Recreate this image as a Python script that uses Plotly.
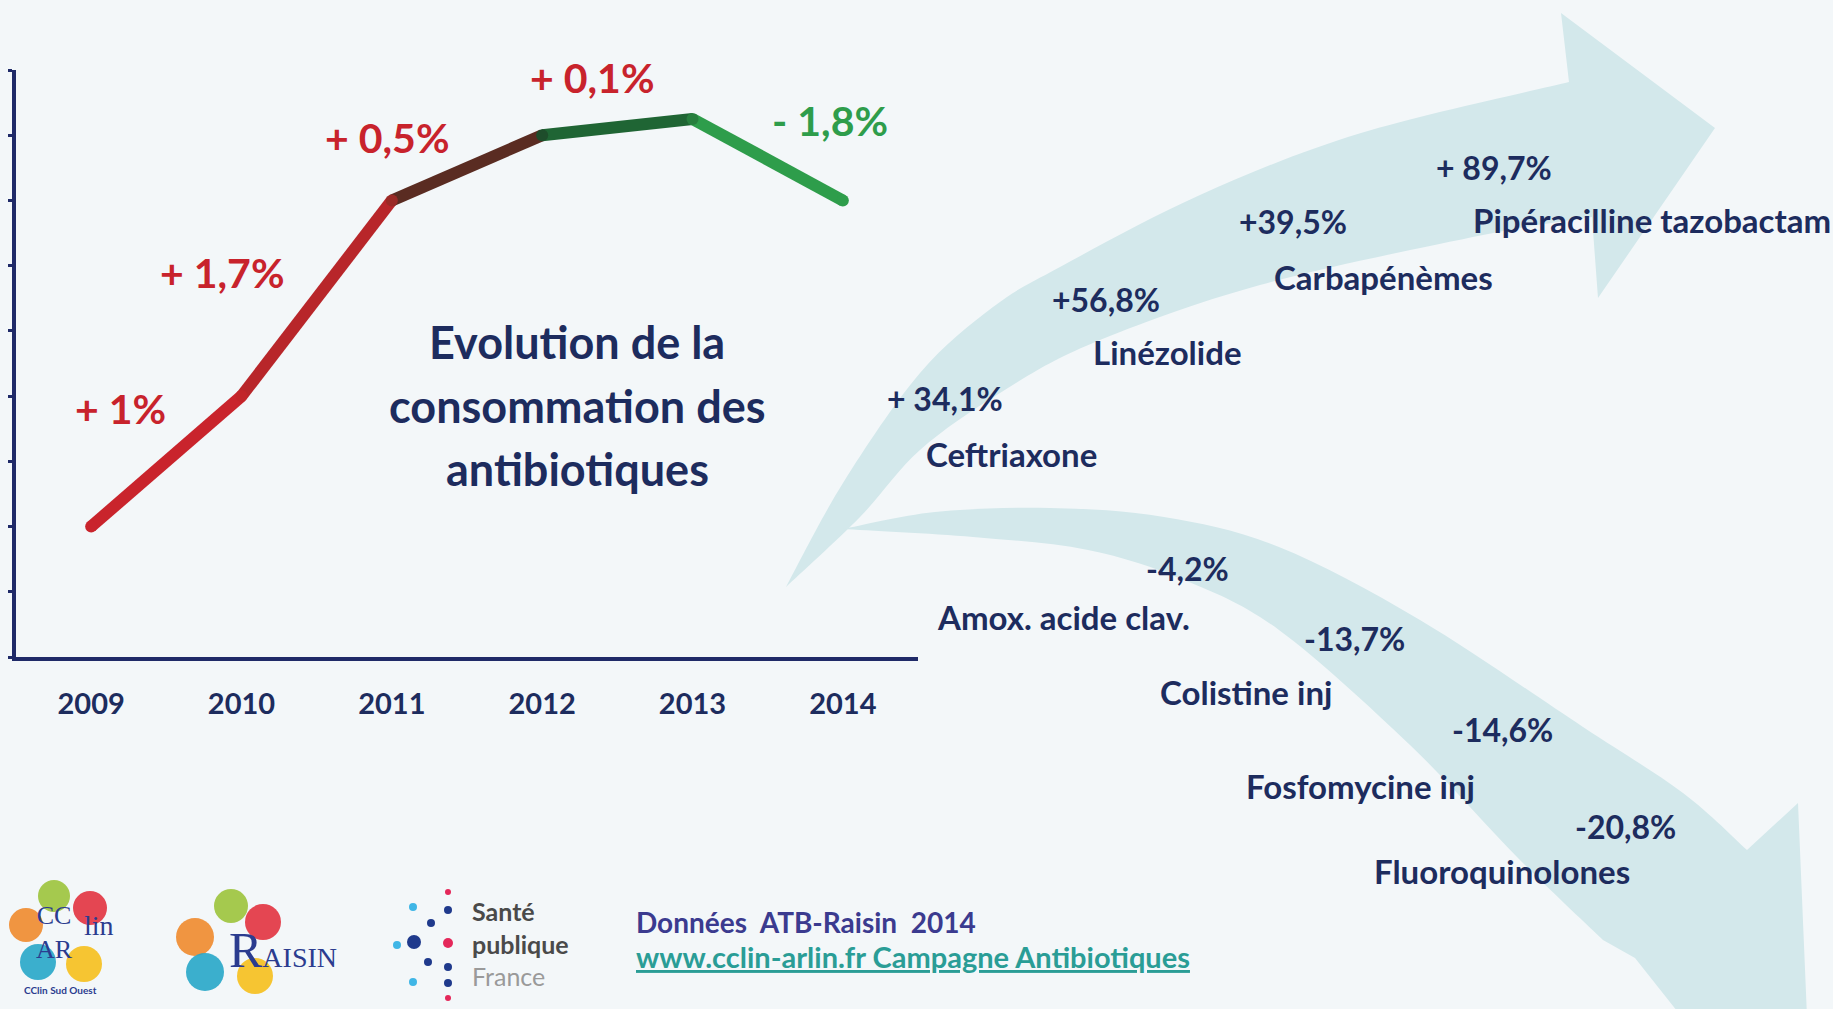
import plotly.graph_objects as go

W, H = 1833, 1009

# ---------------- data ----------------
years = ["2009", "2010", "2011", "2012", "2013", "2014"]
consumption = [2.0, 4.0, 7.0, 8.0, 8.25, 7.0]          # relative level (axis unlabelled)
yearly_change = ["+ 1%", "+ 1,7%", "+ 0,5%", "+ 0,1%", "- 1,8%"]
title_lines = ["Evolution de la", "consommation des", "antibiotiques"]

rising_drugs = ["Ceftriaxone", "Linézolide", "Carbapénèmes", "Pipéracilline tazobactam"]
rising_change = ["+ 34,1%", "+56,8%", "+39,5%", "+ 89,7%"]
falling_drugs = ["Amox. acide clav.", "Colistine inj", "Fosfomycine inj", "Fluoroquinolones"]
falling_change = ["-4,2%", "-13,7%", "-14,6%", "-20,8%"]

source_line = "Données  ATB-Raisin  2014"
url_line = "www.cclin-arlin.fr Campagne Antibiotiques"

# ---------------- styles ----------------
BG = "#f3f7f9"
ARROW = "#d3e8eb"
NAVY = "#1d2c5e"
AXIS = "#1f2a68"
RED = "#c8232c"
GREEN = "#2e9d4b"
seg_colors = ["#c9242c", "#b8262a", "#5a2c22", "#1f6534", "#2e9d4b"]
pt_colors = ["#c9242c", "#c22529", "#9a2a26", "#1e4d2b", "#277f3e", "#2e9d4b"]
FONT = "Lato"


def P(x, y):
    return x / W, 1 - y / H


def fmt(pt):
    x, y = P(*pt)
    return f"{x:.5f},{y:.5f}"


def smooth(pts):
    s = ""
    n = len(pts)
    for i in range(n - 1):
        p0 = pts[i - 1] if i > 0 else pts[i]
        p1 = pts[i]
        p2 = pts[i + 1]
        p3 = pts[i + 2] if i + 2 < n else pts[i + 1]
        c1 = (p1[0] + (p2[0] - p0[0]) / 6, p1[1] + (p2[1] - p0[1]) / 6)
        c2 = (p2[0] - (p3[0] - p1[0]) / 6, p2[1] - (p3[1] - p1[1]) / 6)
        s += f" C {fmt(c1)} {fmt(c2)} {fmt(p2)}"
    return s


def arrow_path(upper, head, lower):
    d = f"M {fmt(upper[0])}" + smooth(upper)
    for h in head:
        d += f" L {fmt(h)}"
    d += f" L {fmt(lower[0])}" + smooth(lower) + " Z"
    return d


fig = go.Figure()

# ---------------- line chart ----------------
for i in range(len(years) - 1):
    fig.add_trace(go.Scatter(
        x=years[i:i + 2], y=consumption[i:i + 2], mode="lines",
        line=dict(color=seg_colors[i], width=12), hoverinfo="skip", showlegend=False))
fig.add_trace(go.Scatter(
    x=years, y=consumption, mode="markers",
    marker=dict(color=pt_colors, size=12, line=dict(width=0)),
    hoverinfo="skip", showlegend=False))

fig.update_xaxes(
    type="category", range=[-0.5, 5.5], domain=[16 / W, 918 / W],
    showline=True, linecolor=AXIS, linewidth=4, showgrid=False, zeroline=False,
    ticks="", tickfont=dict(family=FONT, size=29, color=NAVY, weight="bold"),
    ticklabelstandoff=18)
fig.update_yaxes(
    range=[0, 9], dtick=1, domain=[1 - 657 / H, 1 - 70 / H],
    showline=True, linecolor=AXIS, linewidth=4, showgrid=False, zeroline=False,
    ticks="outside", ticklen=4, tickwidth=3, tickcolor=AXIS, showticklabels=False)

annotations = []


def text(x, y, s, size, color, weight="bold", xanchor="center", family=FONT, align="center"):
    px, py = P(x, y)
    annotations.append(dict(
        x=px, y=py, xref="paper", yref="paper", text=s, showarrow=False,
        xanchor=xanchor, yanchor="middle", align=align,
        font=dict(family=family, size=size, color=color, weight=weight)))


change_pos = [(120, 409), (222, 272), (387, 138), (592, 78), (830, 120)]
for lab, (x, y) in zip(yearly_change, change_pos):
    text(x, y, lab, 41, GREEN if lab.startswith("-") else RED)

for line, y in zip(title_lines, [342, 406, 469]):
    text(577, y, line, 45, NAVY)

# ---------------- arrows ----------------
up_upper = [(786, 587), (843, 483), (920, 373), (993, 307), (1060, 267),
            (1200, 195), (1361, 133), (1569, 82)]
up_head = [(1561, 13), (1715, 128), (1598, 298)]
up_lower = [(1592, 217), (1483, 235), (1260, 285), (1093, 343), (1000, 393),
            (920, 450), (860, 517), (786, 587)]

dn_upper = [(843, 529), (935, 512), (1050, 508), (1164, 517), (1279, 547),
            (1420, 620), (1583, 727), (1683, 793), (1747, 850)]
dn_head = [(1798, 803), (1808, 1040), (1700, 1040), (1635, 958)]
dn_lower = [(1603, 940), (1517, 857), (1410, 745), (1279, 630), (1184, 580),
            (1088, 550), (973, 537), (843, 529)]

shapes = [
    dict(type="path", xref="paper", yref="paper", layer="below",
         path=arrow_path(up_upper, up_head, up_lower),
         fillcolor=ARROW, line=dict(width=0)),
    dict(type="path", xref="paper", yref="paper", layer="below",
         path=arrow_path(dn_upper, dn_head, dn_lower),
         fillcolor=ARROW, line=dict(width=0)),
]

rise_pct_pos = [(945, 399), (1106, 299), (1293, 221), (1494, 167)]
rise_name_pos = [(1011, 454), (1167, 352), (1383, 277), (1652, 220)]
for s, (x, y) in zip(rising_change, rise_pct_pos):
    text(x, y, s, 32, NAVY)
for s, (x, y) in zip(rising_drugs, rise_name_pos):
    text(x, y, s, 33, NAVY)

fall_pct_pos = [(1187, 568), (1354, 638), (1502, 729), (1625, 826)]
fall_name_pos = [(1063, 617), (1246, 692), (1360, 786), (1502, 871)]
for s, (x, y) in zip(falling_change, fall_pct_pos):
    text(x, y, s, 32, NAVY)
for s, (x, y) in zip(falling_drugs, fall_name_pos):
    text(x, y, s, 33, NAVY)

# ---------------- footer ----------------
text(634, 922, source_line, 28, "#3b3b8f", xanchor="left")
text(634, 956, f"<u>{url_line}</u>", 29, "#2a9d96", xanchor="left")


def circle(cx, cy, r, color, opacity=0.9):
    x0, y1 = P(cx - r, cy - r)
    x1, y0 = P(cx + r, cy + r)
    shapes.append(dict(type="circle", xref="paper", yref="paper", layer="above",
                       x0=x0, x1=x1, y0=y0, y1=y1, fillcolor=color,
                       opacity=opacity, line=dict(width=0)))


# CClin ARlin logo (simplified)
for cx, cy, r, c in [(54, 896, 16, "#9cc33b"), (90, 908, 17, "#e2323f"),
                     (26, 925, 17, "#f08a2c"), (38, 962, 18, "#27a6c8"),
                     (84, 964, 18, "#f6bf1c")]:
    circle(cx, cy, r, c)
text(54, 932, "CC<br>AR", 26, "#2b3c8f", weight="normal", family="Liberation Serif")
text(99, 925, "lin", 28, "#2b3c8f", weight="normal", family="Liberation Serif")
text(60, 990, "CClin Sud Ouest", 10, "#2b3c8f")

# RAISIN logo (simplified)
for cx, cy, r, c in [(231, 906, 17, "#9cc33b"), (263, 922, 18, "#e2323f"),
                     (195, 937, 19, "#f08a2c"), (205, 972, 19, "#27a6c8"),
                     (255, 976, 18, "#f6bf1c")]:
    circle(cx, cy, r, c)
text(283, 950, "R<span style='font-size:28px'>AISIN</span>", 50, "#2b3c8f",
     weight="normal", family="Liberation Serif")

# Santé publique France logo (simplified)
for cx, cy, r, c in [(448, 892, 3, "#e4285a"), (448, 910, 4, "#1f3a8c"),
                     (448, 943, 5, "#e4285a"), (448, 967, 4, "#1f3a8c"),
                     (448, 983, 4, "#1f3a8c"), (448, 998, 3, "#e4285a"),
                     (413, 907, 4, "#3fb6e6"), (431, 923, 4, "#1f3a8c"),
                     (414, 942, 7, "#1f3a8c"), (397, 945, 4, "#3fb6e6"),
                     (428, 962, 4, "#1f3a8c"), (413, 982, 4, "#3fb6e6")]:
    circle(cx, cy, r, c, opacity=1)
text(470, 943,
     "<b>Santé</b><br><b>publique</b><br><span style='color:#9a9a9a'>France</span>",
     25, "#4a4a4a", weight="normal", xanchor="left", align="left")

fig.update_layout(
    width=W, height=H, margin=dict(l=0, r=0, t=0, b=0),
    paper_bgcolor=BG, plot_bgcolor=BG,
    showlegend=False, shapes=shapes, annotations=annotations,
)

fig.write_html(
    "out.html",
    config={"displayModeBar": False},
    post_script="document.body.style.margin='0';document.body.style.overflow='hidden';")
